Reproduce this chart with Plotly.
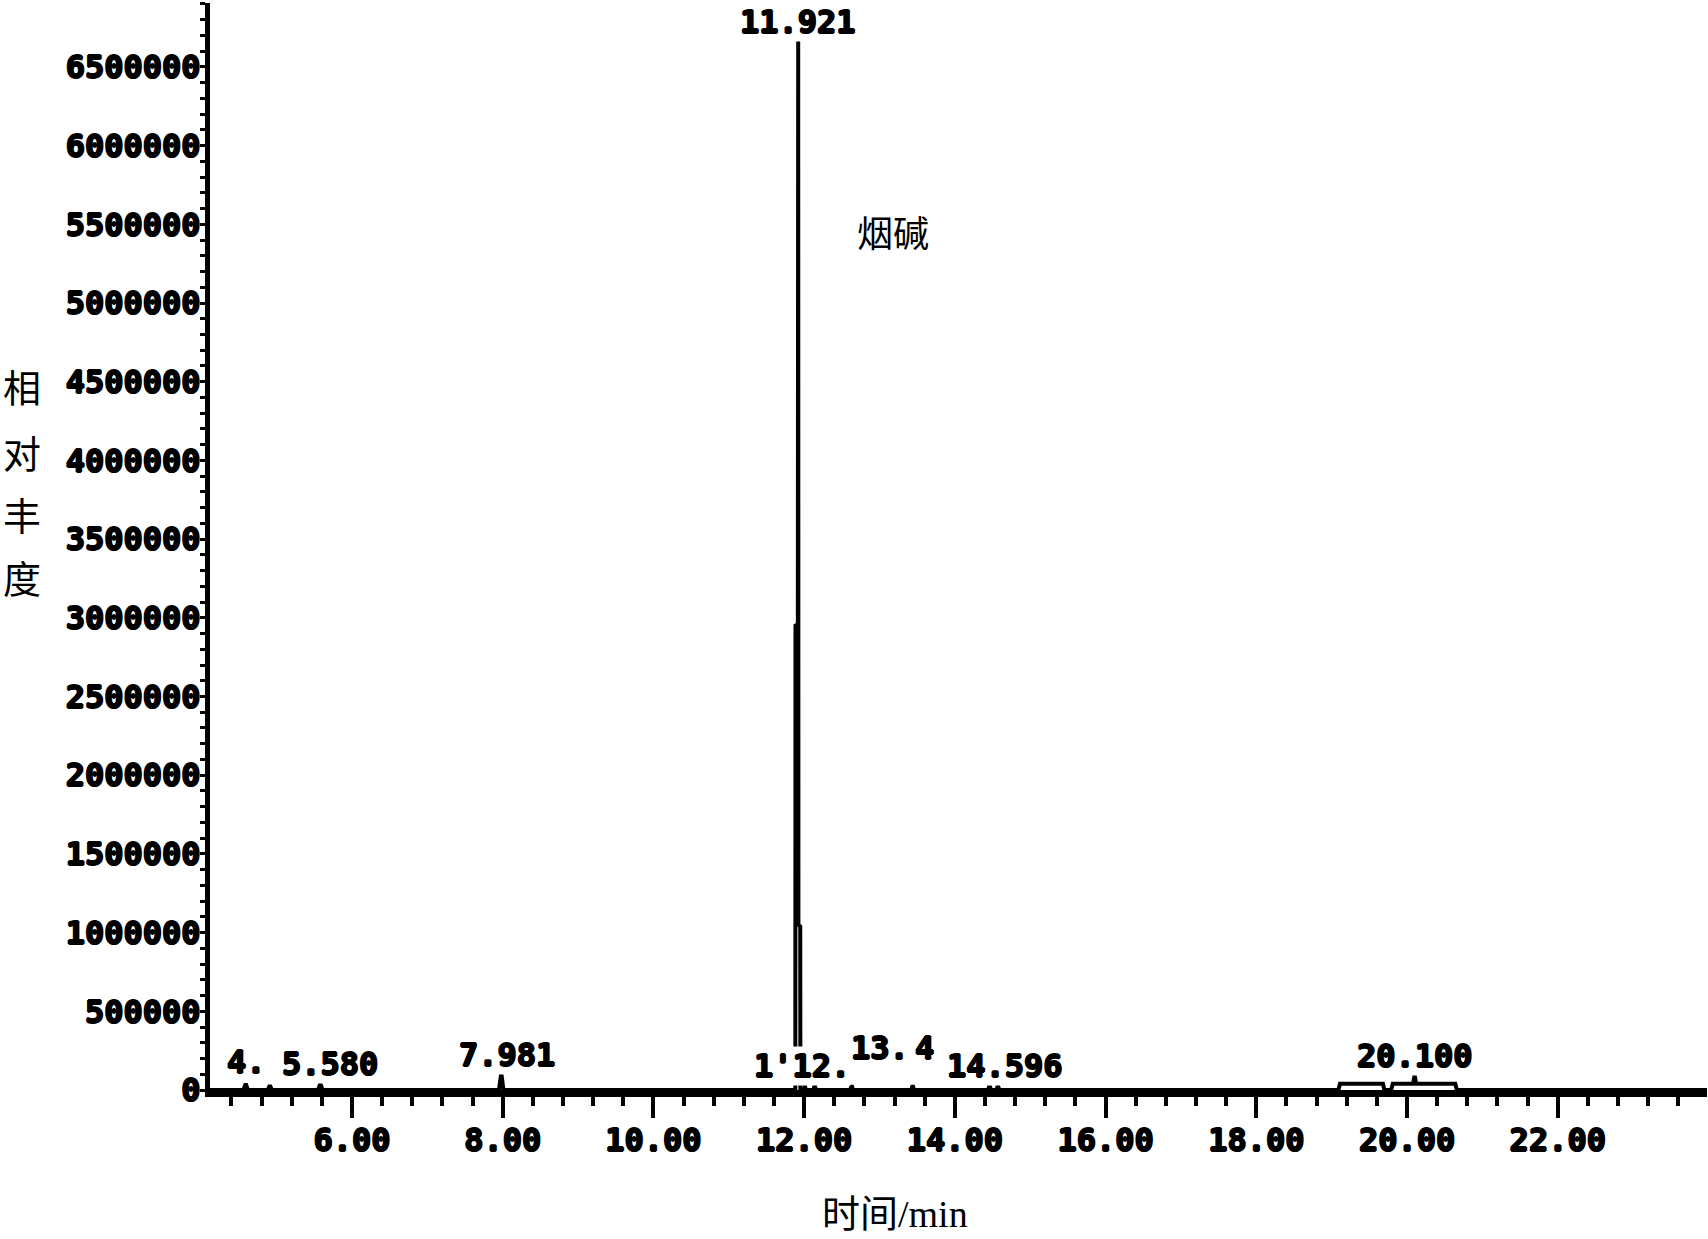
import plotly.graph_objects as go

# Chromatogram trace (retention time in min, abundance)
times = [4.116, 4.56, 4.59, 4.62, 4.88, 4.91, 4.94, 5.55, 5.58, 5.61,
         7.95, 7.981, 8.01,
         11.883, 11.885, 11.916, 11.921, 11.924, 11.948, 11.950,
         12.0, 12.01, 12.02, 12.12, 12.14, 12.16, 12.61, 12.63, 12.65,
         13.42, 13.44, 13.46, 14.44, 14.46, 14.48, 14.55, 14.57, 14.59,
         19.09, 19.11, 19.68, 19.70, 19.79, 19.81, 20.08, 20.10, 20.12,
         20.64, 20.66, 23.98]
abundance = [0, 0, 40000, 0, 0, 30000, 0, 0, 40000, 0,
             0, 110000, 0,
             0, 2950000, 2960000, 6670000, 1050000, 1040000, 0,
             0, 30000, 0, 0, 30000, 0, 0, 30000, 0,
             0, 30000, 0, 0, 30000, 0, 0, 30000, 0,
             0, 40000, 40000, 0, 0, 40000, 40000, 95000, 40000,
             40000, 0, 0]

# Peak labels
label_text = ["4.", "5.580", "7.981", "1'12.", "13.", "4", "14.596", "20.100", "11.921"]
label_x = [4.594, 5.708, 8.056, 11.97, 13.005, 13.60, 14.66, 20.10, 11.917]
label_y = [175000, 165000, 225000, 150000, 270000, 270000, 150000, 215000, 6785000]

compound_name = "烟碱"
compound_x = 13.18
compound_y = 5460000

x_tickvals = [6, 8, 10, 12, 14, 16, 18, 20, 22]
x_ticktext = ["6.00", "8.00", "10.00", "12.00", "14.00", "16.00", "18.00", "20.00", "22.00"]
y_tickvals = [0, 500000, 1000000, 1500000, 2000000, 2500000, 3000000,
              3500000, 4000000, 4500000, 5000000, 5500000, 6000000, 6500000]
y_ticktext = [str(v) for v in y_tickvals]

x_title = "时间/min"
y_title_chars = ["相", "对", "丰", "度"]

shadow = "1px 0px 0px #000, -1px 0px 0px #000, 0px 1px 0px #000, 0px -1px 0px #000"
numfont = dict(family="DejaVu Sans Mono", size=32, color="black", weight="bold", shadow=shadow)

fig = go.Figure()
fig.add_trace(go.Scatter(x=times, y=abundance, mode="lines",
                         line=dict(color="black", width=4), showlegend=False,
                         hoverinfo="skip"))

for t, xv, yv in zip(label_text, label_x, label_y):
    fig.add_annotation(x=xv, y=yv, text=t, showarrow=False, font=numfont,
                       bgcolor="white", borderpad=0, xanchor="center", yanchor="middle")

fig.add_annotation(x=compound_x, y=compound_y, text=compound_name, showarrow=False,
                   font=dict(family="Noto Sans CJK SC", size=36, color="black"),
                   xanchor="center", yanchor="middle")

# axis titles
fig.add_annotation(xref="paper", yref="paper", x=0.4576, y=-0.1145, text=x_title,
                   showarrow=False, xanchor="center", yanchor="middle",
                   font=dict(family="Liberation Serif, Noto Sans CJK SC", size=38, color="black"))
ys = [0.6477, 0.5872, 0.5303, 0.4725]
for ch, yy in zip(y_title_chars, ys):
    fig.add_annotation(xref="paper", yref="paper", x=-0.1255, y=yy, text=ch,
                       showarrow=False, xanchor="center", yanchor="middle",
                       font=dict(family="Noto Sans CJK SC", size=38, color="black"))

fig.update_xaxes(range=[4.116, 23.98], showline=True, linewidth=7, linecolor="black",
                 automargin=False,
                 tickmode="array", tickvals=x_tickvals, ticktext=x_ticktext,
                 ticks="outside", ticklen=21, tickwidth=4, tickcolor="black",
                 ticklabelstandoff=-5,
                 tickfont=numfont, showgrid=False, zeroline=False,
                 minor=dict(dtick=0.4, tick0=0, ticks="outside", ticklen=9,
                            tickwidth=4, tickcolor="black", showgrid=False))
fig.update_yaxes(range=[0, 6906000], showline=True, linewidth=5, linecolor="black",
                 automargin=False,
                 tickmode="array", tickvals=y_tickvals, ticktext=y_ticktext,
                 ticks="outside", ticklen=5, tickwidth=3, tickcolor="black",
                 ticklabelstandoff=-7,
                 tickfont=numfont, showgrid=False, zeroline=False,
                 minor=dict(dtick=100000, tick0=0, ticks="outside", ticklen=5,
                            tickwidth=3, tickcolor="black", showgrid=False))

fig.update_layout(width=1708, height=1239, plot_bgcolor="white", paper_bgcolor="white",
                  margin=dict(l=210, r=1, t=3, b=149), showlegend=False)

fig.write_html("out.html", config={"displayModeBar": False},
               post_script="document.body.style.margin='0';document.body.style.overflow='hidden';")
